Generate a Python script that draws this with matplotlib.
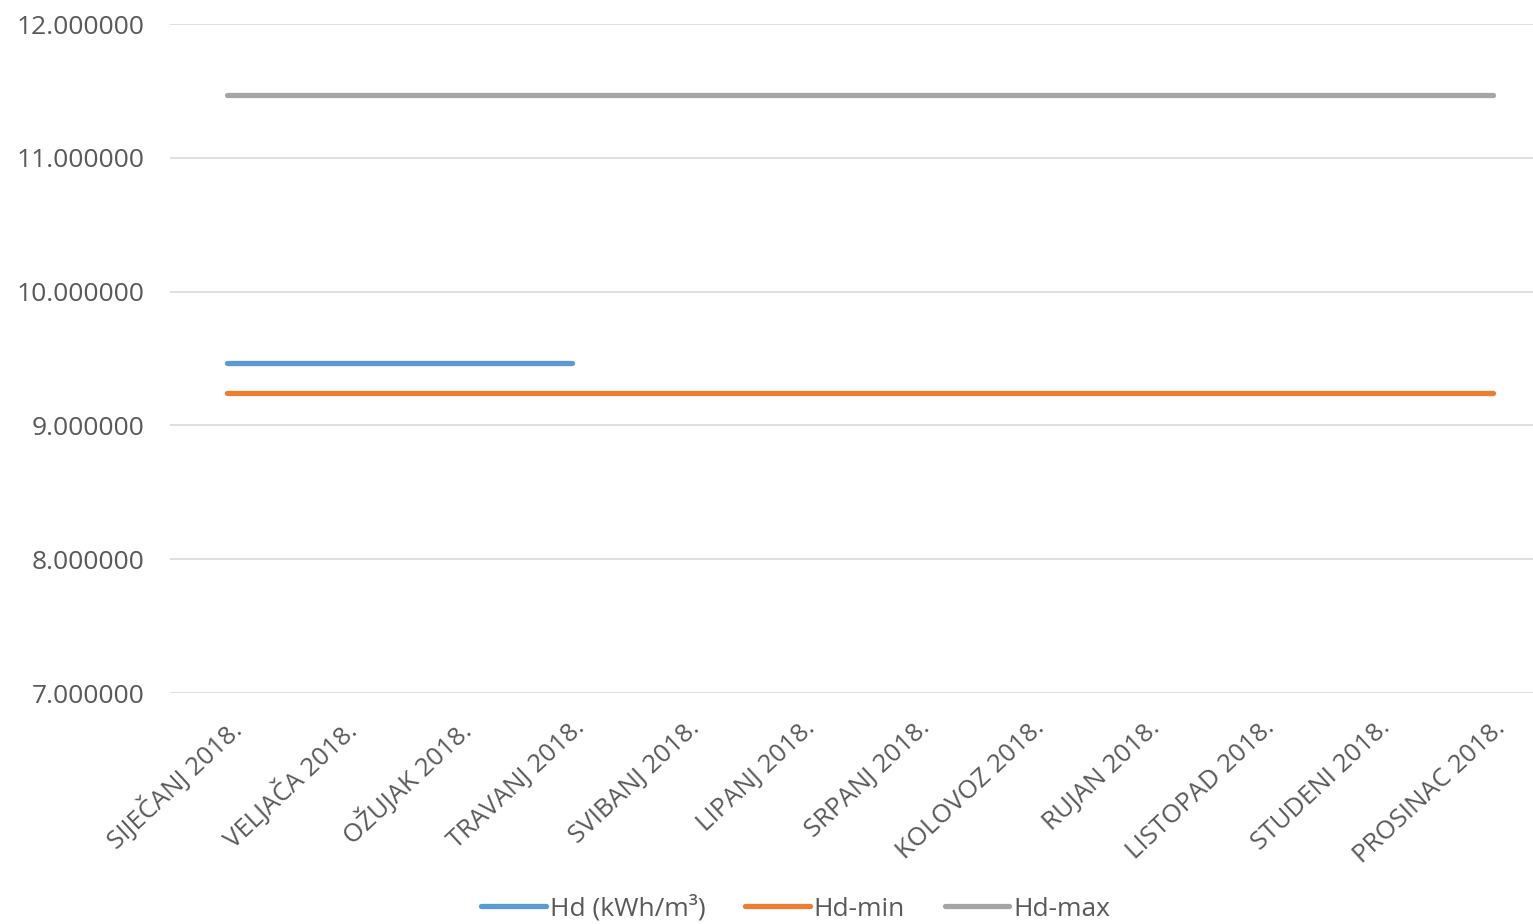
import matplotlib
matplotlib.use('Agg')
from matplotlib import pyplot as plt
import numpy as np

months = ['SIJEČANJ 2018.', 'VELJAČA 2018.', 'OŽUJAK 2018.', 'TRAVANJ 2018.',
          'SVIBANJ 2018.', 'LIPANJ 2018.', 'SRPANJ 2018.', 'KOLOVOZ 2018.',
          'RUJAN 2018.', 'LISTOPAD 2018.', 'STUDENI 2018.', 'PROSINAC 2018.']
hd = [9.47, 9.47, 9.47, 9.47, None, None, None, None, None, None, None, None]
hd_min = [9.24] * 12
hd_max = [11.47] * 12
y_ticks = [7, 8, 9, 10, 11, 12]

plt.rcParams['font.family'] = ['Open Sans', 'DejaVu Sans']
txt = '#595959'

fig = plt.figure(figsize=(15.33, 9.24), dpi=100)
ax = fig.add_axes([0.1106, 0.25, 0.901, 0.724])

x = np.arange(len(months))
hd_arr = np.array([np.nan if v is None else v for v in hd], dtype=float)
ax.plot(x, hd_arr, color='#5B9BD5', lw=3.8, solid_capstyle='round', label='Hd (kWh/m³)')
ax.plot(x, hd_min, color='#ED7D31', lw=3.8, solid_capstyle='round', label='Hd-min')
ax.plot(x, hd_max, color='#A5A5A5', lw=3.8, solid_capstyle='round', label='Hd-max')

ax.set_xlim(-0.5, len(months) - 0.5)
ax.set_ylim(7, 12)
ax.set_yticks(y_ticks)
ax.set_yticklabels(['%.6f' % v for v in y_ticks], fontsize=19, color=txt)
ax.set_xticks(x)
ax.set_xticklabels(months, rotation=43, ha='right', rotation_mode='anchor',
                   fontsize=18.5, color=txt)
ax.tick_params(length=0, pad=18)
ax.tick_params(axis='x', pad=16)
ax.grid(axis='y', color='#D9D9D9', lw=1.2)
ax.set_axisbelow(True)
for s in ax.spines.values():
    s.set_visible(False)

h, l = ax.get_legend_handles_labels()
leg = fig.legend(h, l, loc='center', bbox_to_anchor=(0.519, 0.017), ncol=3,
                 frameon=False, fontsize=19, handlelength=2.45, handletextpad=0.15,
                 columnspacing=1.5)
for t in leg.get_texts():
    t.set_color(txt)

fig.savefig('out.png', dpi=100)
